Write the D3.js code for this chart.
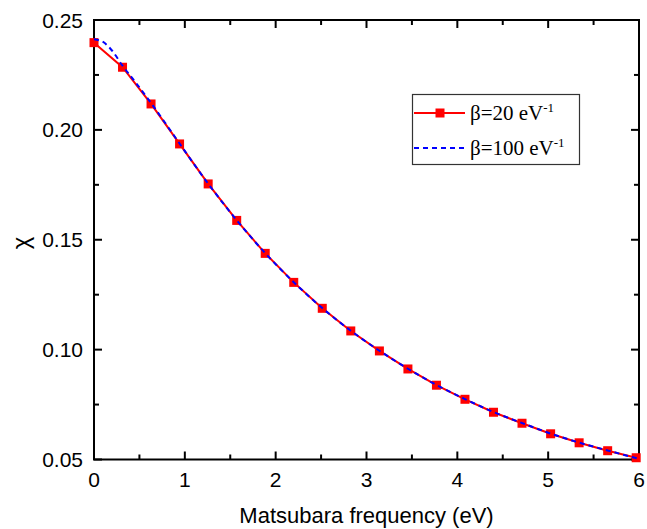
<!DOCTYPE html>
<html>
<head>
<meta charset="utf-8">
<script src="https://cdn.jsdelivr.net/npm/d3@7"></script>
<style>
	body { margin: 0; background: #fff; }
	svg { display: block; }
	.tick-label { font-family: "Liberation Sans", Arial, sans-serif; font-size: 21px; fill: #000; }
	.legend-text { font-family: "Liberation Serif", "Times New Roman", serif; font-size: 21px; fill: #000; }
</style>
</head>
<body>
<svg id="chart" width="647" height="529"></svg>
<script>

// beta = 20 eV^-1, red squares
var freq20 = [0, 0.314, 0.628, 0.942, 1.257, 1.571, 1.885, 2.199, 2.513, 2.827,
	3.142, 3.456, 3.770, 4.084, 4.398, 4.712, 5.027, 5.341, 5.655, 5.969];
var chi20 = [0.2397, 0.2285, 0.2118, 0.1936, 0.1754, 0.1588, 0.1438, 0.1306, 0.1188, 0.1085,
	0.0994, 0.0912, 0.0838, 0.0774, 0.0715, 0.0665, 0.0617, 0.0576, 0.0540, 0.0508];

// beta = 100 eV^-1, blue dashed
var freq100 = [0, 0.1, 0.2, 0.314, 0.45, 0.628, 0.8, 0.942, 1.257, 1.571, 1.885, 2.199,
	2.513, 2.827, 3.142, 3.456, 3.770, 4.084, 4.398, 4.712, 5.027, 5.341, 5.655, 6.0];
var chi100 = [0.2412, 0.2400, 0.2360, 0.2292, 0.2220, 0.2122, 0.2022, 0.1938, 0.1755, 0.1589,
	0.1439, 0.1307, 0.1189, 0.1086, 0.0995, 0.0913, 0.0839, 0.0775, 0.0716, 0.0666,
	0.0618, 0.0577, 0.0541, 0.0503];

var xMajor = [0, 1, 2, 3, 4, 5, 6];
var xMinor = [0.5, 1.5, 2.5, 3.5, 4.5, 5.5];
var yMajor = [0.05, 0.10, 0.15, 0.20, 0.25];
var yMinor = [0.075, 0.125, 0.175, 0.225];

var legendLabels = ["β=20 eV", "β=100 eV"];

var LEFT	= 94;
var RIGHT	= 639;
var TOP		= 20;
var BOTTOM	= 459.5;

var svg = d3.select("#chart");

var x = d3.scaleLinear().domain([0, 6]).range([LEFT, RIGHT]);
var y = d3.scaleLinear().domain([0.05, 0.25]).range([BOTTOM, TOP]);

function drawTicks(axis, values, len, showLabels) {

	var fmt = d3.format(".2f");
	var g = svg.append("g");

	values.forEach(function(v) {

		if ( axis == "x" ) {
			var px = x(v);
			g.append("line").attr("x1", px).attr("x2", px).attr("y1", BOTTOM).attr("y2", BOTTOM - len);
			g.append("line").attr("x1", px).attr("x2", px).attr("y1", TOP).attr("y2", TOP + len);

			if ( showLabels ) {
				svg.append("text")
					.attr("class", "tick-label")
					.attr("x", px)
					.attr("y", 487)
					.attr("text-anchor", "middle")
					.text(v);
			}
		}
		else {
			var py = y(v);
			g.append("line").attr("x1", LEFT).attr("x2", LEFT + len).attr("y1", py).attr("y2", py);
			g.append("line").attr("x1", RIGHT).attr("x2", RIGHT - len).attr("y1", py).attr("y2", py);

			if ( showLabels ) {
				svg.append("text")
					.attr("class", "tick-label")
					.attr("x", 83)
					.attr("y", py + 7.5)
					.attr("text-anchor", "end")
					.text(fmt(v));
			}
		}
	});

	g.attr("stroke", "#000").attr("stroke-width", 2);
}

drawTicks("x", xMajor, 8, true);
drawTicks("x", xMinor, 5, false);
drawTicks("y", yMajor, 8, true);
drawTicks("y", yMinor, 5, false);

// frame
svg.append("rect")
	.attr("x", LEFT)
	.attr("y", TOP)
	.attr("width", RIGHT - LEFT)
	.attr("height", BOTTOM - TOP)
	.attr("fill", "none")
	.attr("stroke", "#000")
	.attr("stroke-width", 2);

var line20 = d3.line()
	.x(function(d, i) { return x(freq20[i]); })
	.y(function(d) { return y(d); });

var line100 = d3.line()
	.curve(d3.curveMonotoneX)
	.x(function(d, i) { return x(freq100[i]); })
	.y(function(d) { return y(d); });

svg.append("path")
	.datum(chi20)
	.attr("d", line20)
	.attr("fill", "none")
	.attr("stroke", "#ff0000")
	.attr("stroke-width", 2);

svg.selectAll("rect.sq")
	.data(chi20)
	.enter()
	.append("rect")
	.attr("class", "sq")
	.attr("x", function(d, i) { return x(freq20[i]) - 4.5; })
	.attr("y", function(d) { return y(d) - 4.5; })
	.attr("width", 9)
	.attr("height", 9)
	.attr("fill", "#ff0000");

svg.append("path")
	.datum(chi100)
	.attr("d", line100)
	.attr("fill", "none")
	.attr("stroke", "#0000ff")
	.attr("stroke-width", 2)
	.attr("stroke-dasharray", "5,4");

// legend
var legend = svg.append("g");

legend.append("rect")
	.attr("x", 412.5)
	.attr("y", 94.5)
	.attr("width", 167)
	.attr("height", 70)
	.attr("fill", "#fff")
	.attr("stroke", "#333")
	.attr("stroke-width", 1.2);

var rowY = [113, 148];

legend.append("line")
	.attr("x1", 414).attr("x2", 465)
	.attr("y1", rowY[0]).attr("y2", rowY[0])
	.attr("stroke", "#ff0000").attr("stroke-width", 2);

legend.append("rect")
	.attr("x", 440 - 4.5).attr("y", rowY[0] - 4.5)
	.attr("width", 9).attr("height", 9)
	.attr("fill", "#ff0000");

legend.append("line")
	.attr("x1", 414).attr("x2", 465)
	.attr("y1", rowY[1]).attr("y2", rowY[1])
	.attr("stroke", "#0000ff").attr("stroke-width", 2)
	.attr("stroke-dasharray", "5,4");

legendLabels.forEach(function(lbl, i) {

	var t = legend.append("text")
		.attr("class", "legend-text")
		.attr("x", 470)
		.attr("y", rowY[i] + 7);

	t.append("tspan").text(lbl);
	t.append("tspan")
		.attr("dy", -8)
		.attr("font-size", 13)
		.text("-1");
});

// axis titles
svg.append("text")
	.attr("x", (LEFT + RIGHT) / 2)
	.attr("y", 523)
	.attr("text-anchor", "middle")
	.attr("font-family", "Liberation Sans, Arial, sans-serif")
	.attr("font-size", 22)
	.text("Matsubara frequency (eV)");

svg.append("text")
	.attr("transform", "translate(29,243) rotate(-90)")
	.attr("text-anchor", "middle")
	.attr("font-family", "Liberation Sans, Arial, sans-serif")
	.attr("font-size", 24)
	.text("χ");

</script>
</body>
</html>
